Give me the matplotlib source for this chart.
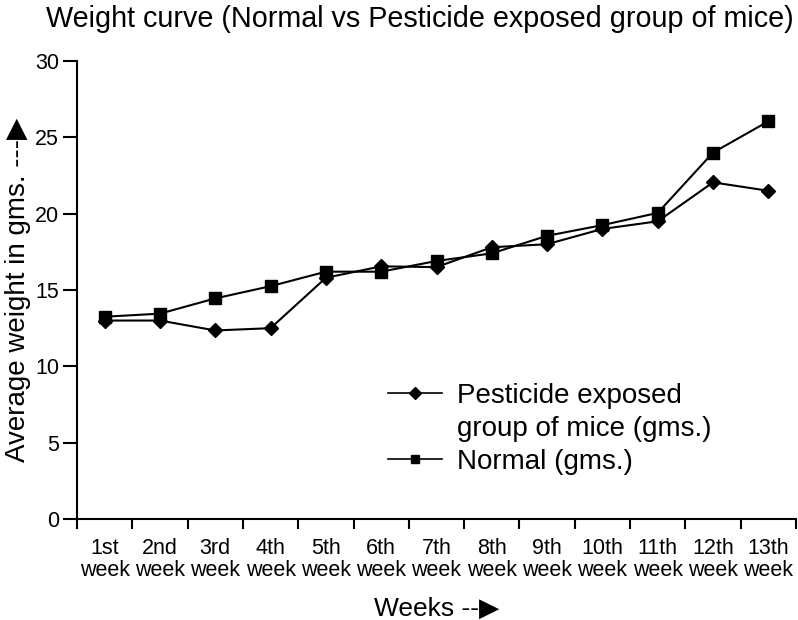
import matplotlib
matplotlib.use("Agg")
import matplotlib.pyplot as plt
from matplotlib.lines import Line2D

weeks = ["1st\nweek", "2nd\nweek", "3rd\nweek", "4th\nweek", "5th\nweek", "6th\nweek",
         "7th\nweek", "8th\nweek", "9th\nweek", "10th\nweek", "11th\nweek", "12th\nweek", "13th\nweek"]
pesticide = [13.0, 13.0, 12.35, 12.5, 15.8, 16.55, 16.5, 17.8, 18.0, 19.0, 19.5, 22.05, 21.5]
normal = [13.25, 13.45, 14.45, 15.25, 16.2, 16.2, 16.9, 17.4, 18.55, 19.25, 20.05, 24.0, 26.05]
y_ticks = [0, 5, 10, 15, 20, 25, 30]

REG = ["Liberation Sans", "DejaVu Sans"]

fig = plt.figure(figsize=(7.98, 6.2), dpi=100)
ax = fig.add_axes([77/798, 1-519/620, (796-77)/798, (519-61)/620])

x = list(range(len(weeks)))
ax.plot(x, pesticide, color="black", lw=1.5, marker="D", ms=7.2, clip_on=False)
ax.plot(x, normal, color="black", lw=1.5, marker="s", ms=8.2, clip_on=False)

ax.set_xlim(-0.5, len(weeks) - 0.5)
ax.set_ylim(0, 30)
ax.set_yticks(y_ticks)
ax.set_yticklabels([str(v) for v in y_ticks], fontsize=15.5, family=REG)
ax.tick_params(axis="y", direction="out", length=10, width=1.5, pad=3)

ax.set_xticks(x)
ax.set_xticklabels(weeks, fontsize=15.5, family=REG, linespacing=1.1)
ax.set_xticks([i - 0.5 for i in range(len(weeks) + 1)], minor=True)
ax.tick_params(axis="x", which="major", length=0, pad=13.5)
ax.tick_params(axis="x", which="minor", direction="out", length=7, width=1.5)

for s in ["top", "right"]:
    ax.spines[s].set_visible(False)
for s in ["left", "bottom"]:
    ax.spines[s].set_linewidth(1.5)

ax.set_ylabel("Average weight in gms. ---▶", fontsize=20, family=REG)
ax.yaxis.set_label_coords(-0.082, 0.5)
ax.yaxis.label.set_va("center")
ax.set_xlabel("Weeks --▶", fontsize=19, family=REG)
ax.xaxis.set_label_coords(0.5, (519-609)/458)
ax.xaxis.label.set_va("center")

fig.text(420/798, 1-19/620, "Weight curve (Normal vs Pesticide exposed group of mice)",
         fontsize=20.7, family=REG, ha="center", va="center")

handles = [Line2D([], [], color="black", lw=1.2, marker="D", ms=6),
           Line2D([], [], linestyle="none"),
           Line2D([], [], color="black", lw=1.2, marker="s", ms=5.5)]
labels = ["Pesticide exposed", "group of mice (gms.)", "Normal (gms.)"]
fig.legend(handles, labels, loc="upper left", bbox_to_anchor=(388/798, 1-383/620),
           frameon=False, prop={"family": REG, "size": 20}, handlelength=1.95,
           handletextpad=0.55, labelspacing=0.25, borderpad=0, borderaxespad=0)

fig.savefig("out.png", dpi=100)
